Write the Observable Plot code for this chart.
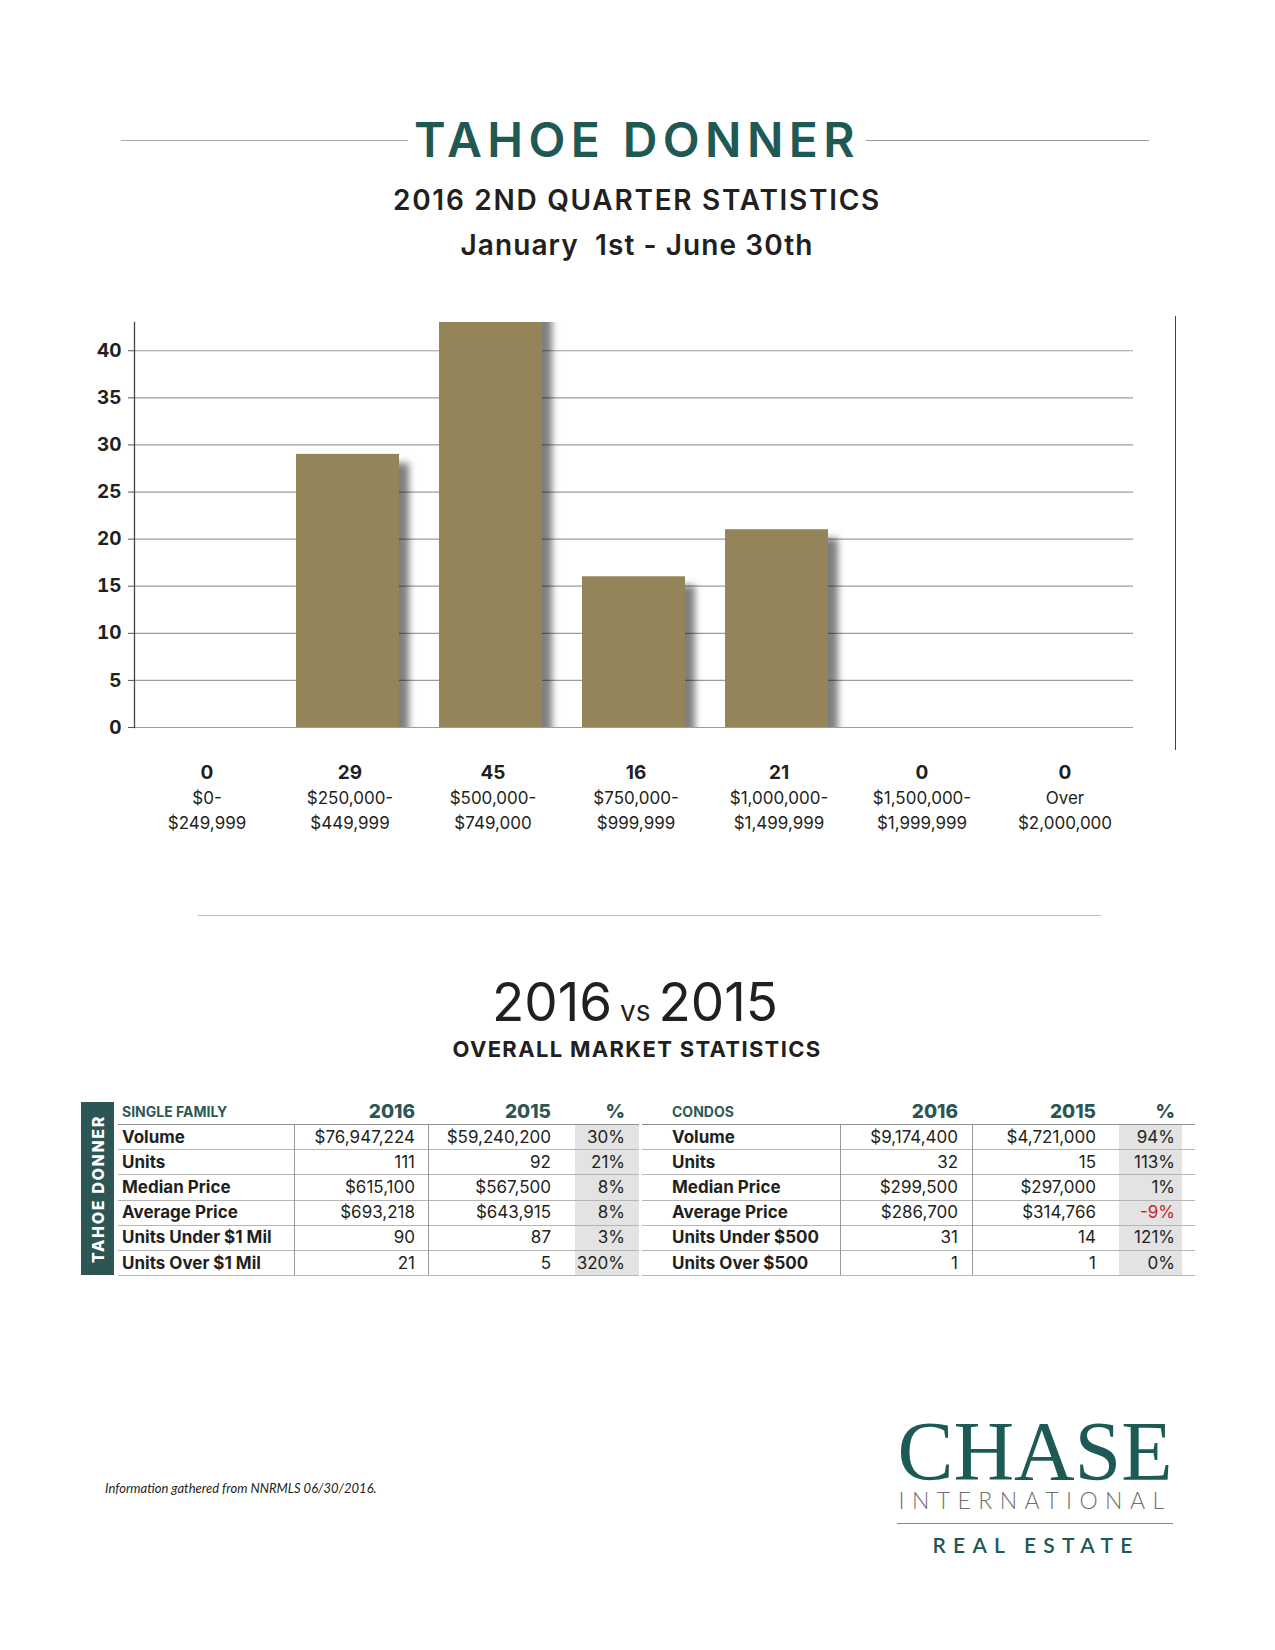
<!DOCTYPE html>
<html>
<head>
<meta charset="utf-8">
<script src="https://cdn.jsdelivr.net/npm/d3@7"></script>
<script src="https://cdn.jsdelivr.net/npm/@observablehq/plot@0.6"></script>
<style>
  html, body { margin: 0; padding: 0; background: #fff; }
  #page { position: relative; width: 1275px; height: 1650px; overflow: hidden; font-family: Inter, "Noto Sans", sans-serif; color: #231f20; }
  .t { position: absolute; white-space: pre; line-height: 1; }
  .hl { position: absolute; height: 0; border-top: 1px solid #9a9a9a; }
  .vl { position: absolute; width: 0; border-left: 1px solid #9a9a9a; }
  #chart { position: absolute; left: 0; top: 300px; }
</style>
</head>
<body>
<div id="page"></div>
<script>
// ---------- DATA ----------
const title = "TAHOE DONNER";
const subtitle = "2016 2ND QUARTER STATISTICS";
const dateRange = "January  1st - June 30th";

const rangeLow  = ["$0-", "$250,000-", "$500,000-", "$750,000-", "$1,000,000-", "$1,500,000-", "Over"];
const rangeHigh = ["$249,999", "$449,999", "$749,000", "$999,999", "$1,499,999", "$1,999,999", "$2,000,000"];
const unitsSold = [0, 29, 45, 16, 21, 0, 0];
const yTicks = [0, 5, 10, 15, 20, 25, 30, 35, 40];
const yMax = 43;

const compareTitle = ["2016", "vs", "2015"];
const compareSub = "OVERALL MARKET STATISTICS";
const sideLabel = "TAHOE DONNER";
const yearHeaders = ["2016", "2015", "%"];

const sfTitle = "SINGLE FAMILY";
const sfLabels = ["Volume", "Units", "Median Price", "Average Price", "Units Under $1 Mil", "Units Over $1 Mil"];
const sf2016 = ["$76,947,224", "111", "$615,100", "$693,218", "90", "21"];
const sf2015 = ["$59,240,200", "92", "$567,500", "$643,915", "87", "5"];
const sfPct = ["30%", "21%", "8%", "8%", "3%", "320%"];

const condoTitle = "CONDOS";
const condoLabels = ["Volume", "Units", "Median Price", "Average Price", "Units Under $500", "Units Over $500"];
const condo2016 = ["$9,174,400", "32", "$299,500", "$286,700", "31", "1"];
const condo2015 = ["$4,721,000", "15", "$297,000", "$314,766", "14", "1"];
const condoPct = ["94%", "113%", "1%", "-9%", "121%", "0%"];

const footnote = "Information gathered from NNRMLS 06/30/2016.";
const logo = ["CHASE", "INTERNATIONAL", "REAL ESTATE"];

// ---------- HELPERS ----------
const page = document.getElementById("page");
const TEAL = "#1e5954";

function txt(s, o) {
  const d = document.createElement("div");
  d.className = "t";
  d.textContent = s;
  d.style.fontSize = o.size + "px";
  d.style.fontWeight = o.weight || 400;
  d.style.color = o.color || "#231f20";
  if (o.family) d.style.fontFamily = o.family;
  if (o.style) d.style.fontStyle = o.style;
  if (o.lh) d.style.lineHeight = o.lh;
  if (o.ls) d.style.letterSpacing = o.ls + "px";
  page.appendChild(d);
  if (o.width) {
    const w = d.getBoundingClientRect().width;
    const n = s.length;
    d.style.letterSpacing = ((o.width - w) / n) + "px";
  }
  const r = d.getBoundingClientRect();
  const anchor = o.anchor || "start";
  let left = o.x;
  if (anchor === "middle") left = o.x - r.width / 2;
  if (anchor === "end") left = o.x - r.width;
  d.style.left = left + "px";
  d.style.top = (o.y - r.height / 2) + "px";
  return d;
}
function hline(x1, x2, y, color) {
  const d = document.createElement("div");
  d.className = "hl";
  d.style.left = x1 + "px"; d.style.width = (x2 - x1) + "px"; d.style.top = y + "px";
  if (color) d.style.borderTopColor = color;
  page.appendChild(d);
}
function vline(x, y1, y2, color) {
  const d = document.createElement("div");
  d.className = "vl";
  d.style.left = x + "px"; d.style.top = y1 + "px"; d.style.height = (y2 - y1) + "px";
  if (color) d.style.borderLeftColor = color;
  page.appendChild(d);
}
function box(x, y, w, h, bg) {
  const d = document.createElement("div");
  d.style.position = "absolute";
  d.style.left = x + "px"; d.style.top = y + "px";
  d.style.width = w + "px"; d.style.height = h + "px";
  d.style.background = bg;
  page.appendChild(d);
  return d;
}

// ---------- HEADER ----------
hline(121, 408, 140, "#aaaaaa");
hline(866, 1149, 140, "#999999");
txt(title, {x: 637, y: 140, size: 48, weight: 600, color: TEAL, anchor: "middle", width: 446});
txt(subtitle, {x: 637, y: 200, size: 28, weight: 600, anchor: "middle", width: 488});
txt(dateRange, {x: 637, y: 245, size: 28, weight: 600, anchor: "middle", width: 353});

// ---------- CHART ----------
const bins = rangeLow.map((lo, i) => ({range: lo + "\n" + rangeHigh[i], count: unitsSold[i]}));
const chart = Plot.plot({
  width: 1275,
  height: 537,
  marginLeft: 134,
  marginRight: 142,
  marginTop: 22,
  marginBottom: 110,
  style: {fontFamily: "Inter, sans-serif", background: "transparent", overflow: "visible", color: "#231f20"},
  x: {domain: bins.map(d => d.range), paddingInner: 0.278, paddingOuter: 0.125, axis: null},
  y: {domain: [0, yMax], axis: null},
  marks: [
    Plot.gridY(yTicks, {stroke: "#9c9c9c", strokeOpacity: 1, strokeWidth: 1.2}),
    Plot.barY(bins, {x: "range", y: "count", fill: "#94845a", clip: true}),
    Plot.frame({anchor: "left", stroke: "#444", strokeWidth: 1.3}),
    Plot.axisY(yTicks, {label: null, tickSize: 6, tickPadding: 7, fontSize: 19, fontWeight: 700, color: "#231f20", stroke: "#555"}),
    Plot.text(bins, {x: "range", frameAnchor: "bottom", text: d => String(d.count), dx: 2, dy: 51, fontSize: 19, fontWeight: 700, fill: "#231f20"}),
    Plot.text(bins, {x: "range", frameAnchor: "bottom", text: "range", lineAnchor: "top", dx: 2, dy: 59, fontSize: 17, lineHeight: 1.47, fill: "#231f20"})
  ]
});
chart.id = "chart";
chart.insertAdjacentHTML("afterbegin",
  '<defs><filter id="barShadow" x="-20%" y="-20%" width="150%" height="150%">' +
  '<feDropShadow dx="10" dy="9" stdDeviation="3.5" flood-color="#000" flood-opacity="0.5"/></filter></defs>');
d3.select(chart).select('g[aria-label="bar"]').attr("filter", "url(#barShadow)");
page.appendChild(chart);

// right decorative rule
vline(1175, 316, 750, "#444");

// ---------- DIVIDER ----------
hline(198, 1101, 915, "#bdbdbd");

// ---------- COMPARISON TITLE ----------
(function () {
  const d = document.createElement("div");
  d.className = "t";
  d.style.fontSize = "53px";
  d.style.fontWeight = 400;
  const a = document.createElement("span"); a.textContent = compareTitle[0];
  const b = document.createElement("span"); b.textContent = " " + compareTitle[1] + " "; b.style.fontSize = "28px";
  const c = document.createElement("span"); c.textContent = compareTitle[2];
  d.append(a, b, c);
  page.appendChild(d);
  const r = d.getBoundingClientRect();
  d.style.left = (635 - r.width / 2) + "px";
  d.style.top = (1002 - r.height / 2) + "px";
})();
txt(compareSub, {x: 637, y: 1049, size: 22, weight: 700, anchor: "middle", width: 369});

// ---------- TABLE ----------
const rowY0 = 1137, rowH = 25.2;
const headY = 1111, headLine = 1124;
const bottomY = headLine + rowH * 6;

// side band
box(81, 1102, 33, bottomY - 1102, "#2c5653");
const side = txt(sideLabel, {x: 97.5, y: (1102 + bottomY) / 2, size: 16, weight: 800, color: "#fff", anchor: "middle", width: 148});
side.style.transform = "rotate(-90deg)";

function buildTable(o) {
  box(o.pctL, headLine, o.pctR - o.pctL, rowH * 6, "#e3e3e3");
  txt(o.title, {x: o.labelX, y: headY + 1, size: 14, weight: 700, color: "#2c5a57"});
  txt(yearHeaders[0], {x: o.c1, y: headY, size: 19, weight: 800, color: "#2c5653", anchor: "end"});
  txt(yearHeaders[1], {x: o.c2, y: headY, size: 19, weight: 800, color: "#2c5653", anchor: "end"});
  txt(yearHeaders[2], {x: o.c3, y: headY, size: 19, weight: 800, color: "#2c5653", anchor: "end"});
  hline(o.left, o.right, headLine, "#8f8f8f");
  for (let i = 1; i <= 6; i++) hline(o.left, o.right, headLine + rowH * i, "#b5b5b5");
  vline(o.v1, headLine, bottomY, "#9a9a9a");
  vline(o.v2, headLine, bottomY, "#9a9a9a");
  o.labels.forEach((lab, i) => {
    const y = rowY0 + rowH * i;
    txt(lab, {x: o.labelX, y, size: 17, weight: 700});
    txt(o.a[i], {x: o.c1, y, size: 17, anchor: "end"});
    txt(o.b[i], {x: o.c2, y, size: 17, anchor: "end"});
    const neg = o.p[i].trim().startsWith("-");
    txt(o.p[i], {x: o.c3, y, size: 17, anchor: "end", color: neg ? "#c4262e" : "#231f20"});
  });
}

buildTable({title: sfTitle, labels: sfLabels, a: sf2016, b: sf2015, p: sfPct,
  left: 118, right: 639, labelX: 122, v1: 294, v2: 428, c1: 415, c2: 551, c3: 625, pctL: 575, pctR: 639});
buildTable({title: condoTitle, labels: condoLabels, a: condo2016, b: condo2015, p: condoPct,
  left: 642, right: 1195, labelX: 672, v1: 840, v2: 972, c1: 958, c2: 1096, c3: 1175, pctL: 1119, pctR: 1182});

// ---------- FOOTER ----------
txt(footnote, {x: 105, y: 1488, size: 13, style: "italic", family: "Lato, 'Open Sans', sans-serif", color: "#231f20"});
txt(logo[0], {x: 1035, y: 1452, size: 84, weight: 400, lh: 0.7, color: "#1d5a55", family: "'Liberation Serif', 'DejaVu Serif', serif", anchor: "middle", width: 275});
txt(logo[1], {x: 1035, y: 1500, size: 23, weight: 300, color: "#6f6f6f", family: "Lato, sans-serif", anchor: "middle", width: 273});
hline(897, 1173, 1523, "#8a8a8a");
txt(logo[2], {x: 1036, y: 1544, size: 21, weight: 600, color: "#1d5a55", family: "Lato, sans-serif", anchor: "middle", width: 207});
</script>
</body>
</html>
